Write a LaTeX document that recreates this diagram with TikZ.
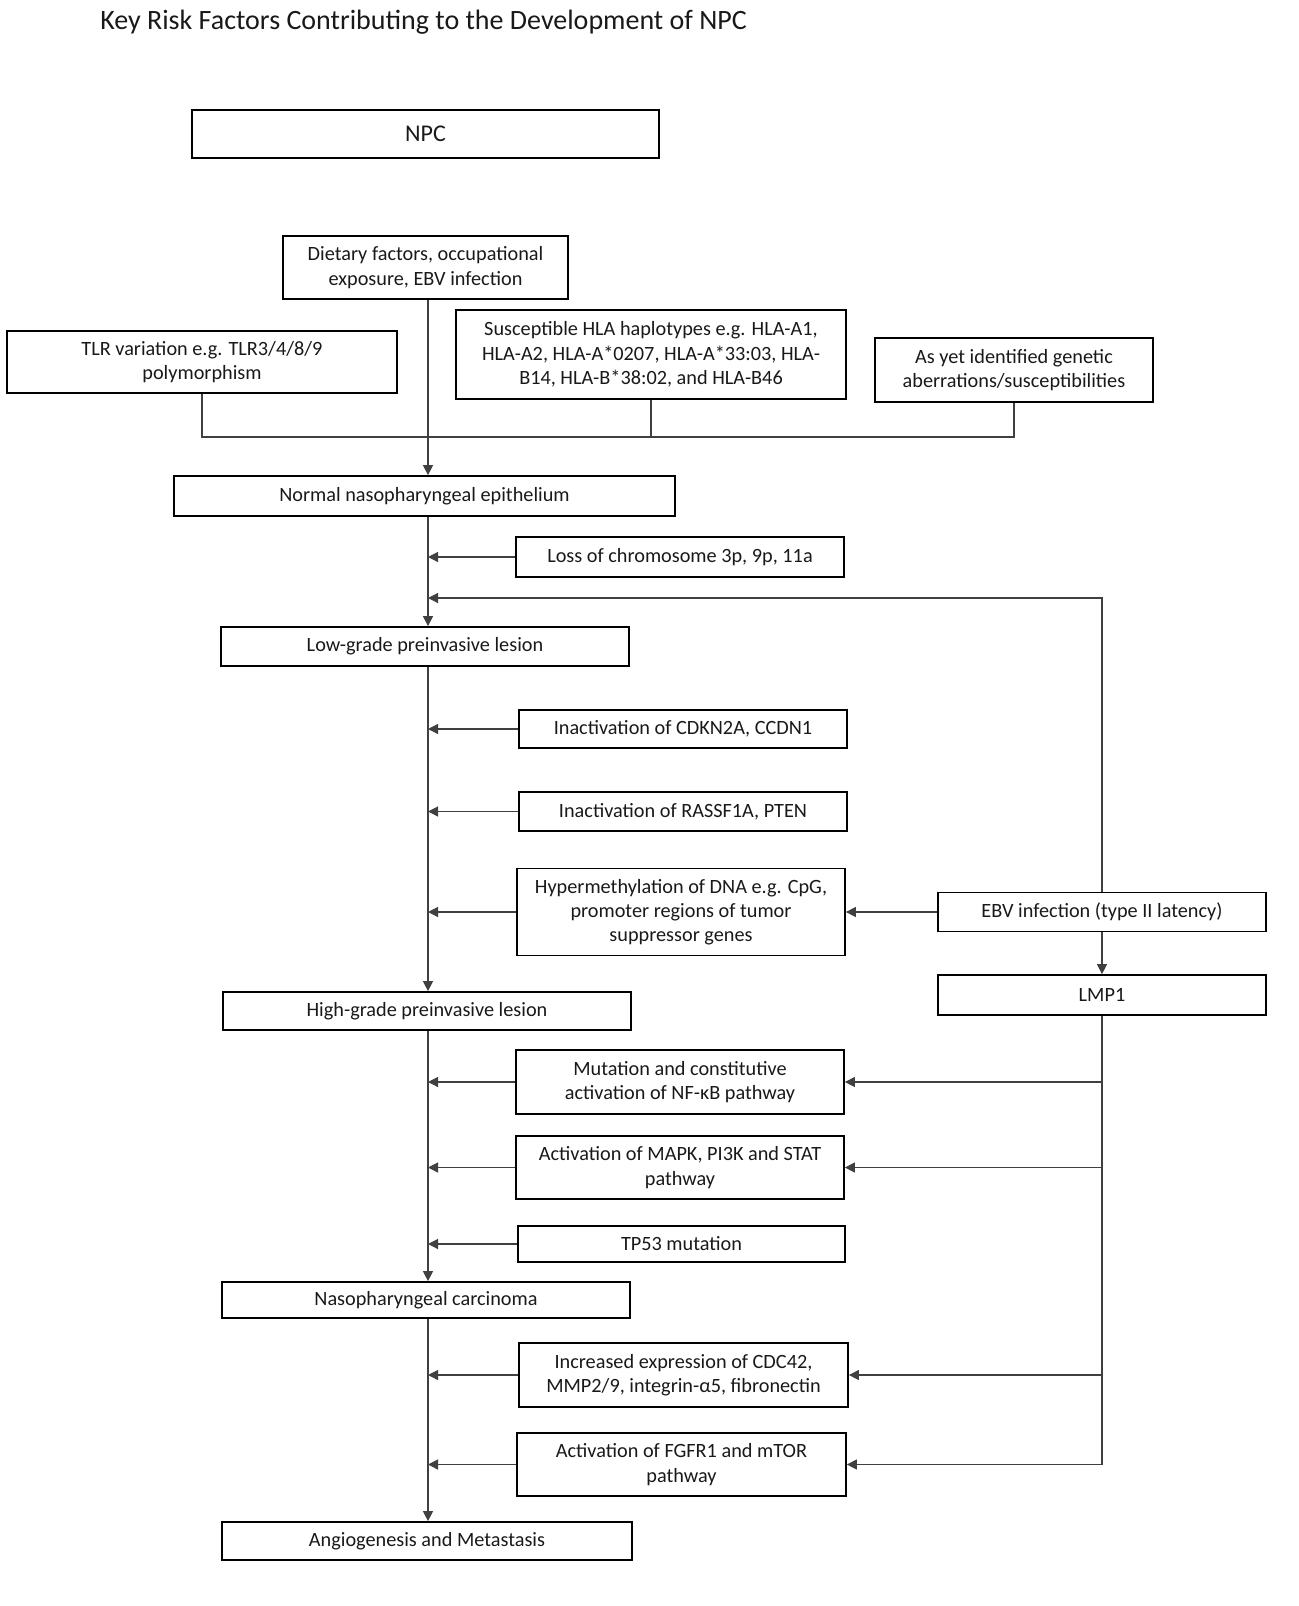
\documentclass[tikz,border=0pt]{standalone}
\usepackage{fontspec}
\setmainfont{Carlito}
\usetikzlibrary{arrows.meta}
\tikzset{
  box/.style={draw=black, line width=1.3pt, inner sep=0pt, align=center, font=\fontsize{15.2}{18.2}\selectfont, text=black!90},
  conn/.style={draw=black!75, line width=0.9pt},
  arr/.style={conn, -{Triangle[length=7.5pt,width=7.5pt]}},
}
\begin{document}
\begin{tikzpicture}[x=0.75pt,y=-0.75pt]
\useasboundingbox (0,0) rectangle (1299,1606);
\node[anchor=west, font=\fontsize{21}{25}\selectfont, inner sep=0pt, text=black!90] (title) at (100,22) {Key Risk Factors Contributing to the Development of NPC};
\coordinate (sp) at (428,0);
\coordinate (brk) at (0,437);
\coordinate (loopy) at (0,598);
% boxes
\node[box, minimum width=350.25pt, minimum height=36pt, font=\fontsize{18}{21}\selectfont] (npc) at (425.5,134) {NPC};
\node[box, minimum width=213.75pt, minimum height=47.25pt] (diet) at (425.5,267.5) {Dietary factors, occupational\\exposure, EBV infection};
\node[box, minimum width=292.5pt, minimum height=46.5pt] (tlr) at (202,362) {TLR variation e.g. TLR3/4/8/9\\polymorphism};
\node[box, minimum width=292.5pt, minimum height=66.75pt] (hla) at (651,354.5) {Susceptible HLA haplotypes e.g. HLA-A1,\\HLA-A2, HLA-A*0207, HLA-A*33:03, HLA-\\B14, HLA-B*38:02, and HLA-B46};
\node[box, minimum width=208.5pt, minimum height=48pt] (yet) at (1014,370) {As yet identified genetic\\aberrations/susceptibilities};
\node[box, minimum width=375.75pt, minimum height=30pt] (normal) at (424.5,496) {Normal nasopharyngeal epithelium};
\node[box, minimum width=246pt, minimum height=30pt] (loss) at (680,557) {Loss of chromosome 3p, 9p, 11a};
\node[box, minimum width=306pt, minimum height=29.25pt] (low) at (425,646.5) {Low-grade preinvasive lesion};
\node[box, minimum width=246pt, minimum height=28.5pt] (cdkn) at (683,729) {Inactivation of CDKN2A, CCDN1};
\node[box, minimum width=246pt, minimum height=29.25pt] (rassf) at (683,811.5) {Inactivation of RASSF1A, PTEN};
\node[box, minimum width=246pt, minimum height=65.25pt] (hyper) at (681,912) {Hypermethylation of DNA e.g. CpG,\\promoter regions of tumor\\suppressor genes};
\node[box, minimum width=246pt, minimum height=29.25pt] (ebv) at (1102,912) {EBV infection (type II latency)};
\node[box, minimum width=306pt, minimum height=28.5pt] (high) at (427,1011) {High-grade preinvasive lesion};
\node[box, minimum width=246pt, minimum height=30pt] (lmp) at (1102,995) {LMP1};
\node[box, minimum width=246pt, minimum height=48pt] (mut) at (680,1082) {Mutation and constitutive\\activation of NF-κB pathway};
\node[box, minimum width=246pt, minimum height=47.25pt] (mapk) at (680,1167.5) {Activation of MAPK, PI3K and STAT\\pathway};
\node[box, minimum width=245.25pt, minimum height=27pt] (tp) at (681.5,1244) {TP53 mutation};
\node[box, minimum width=306pt, minimum height=27pt] (nc) at (426,1300) {Nasopharyngeal carcinoma};
\node[box, minimum width=246.75pt, minimum height=48pt] (incr) at (683.5,1375) {Increased expression of CDC42,\\MMP2/9, integrin-α5, fibronectin};
\node[box, minimum width=246.75pt, minimum height=47.25pt] (fgfr) at (681.5,1464.5) {Activation of FGFR1 and mTOR\\pathway};
\node[box, minimum width=307.5pt, minimum height=28.5pt] (angio) at (427,1541) {Angiogenesis and Metastasis};
% bracket of risk factors
\draw[conn] (tlr.south) -- (tlr.south |- brk) -- (yet.south |- brk) -- (yet.south);
\draw[conn] (hla.south) -- (hla.south |- brk);
% spine
\draw[arr] (diet.south -| sp) -- (normal.north -| sp);
\draw[arr] (normal.south -| sp) -- (low.north -| sp);
\draw[arr] (low.south -| sp) -- (high.north -| sp);
\draw[arr] (high.south -| sp) -- (nc.north -| sp);
\draw[arr] (nc.south -| sp) -- (angio.north -| sp);
% side inputs
\draw[arr] (loss.west) -- (loss.west -| sp);
\draw[arr] (cdkn.west) -- (cdkn.west -| sp);
\draw[arr] (rassf.west) -- (rassf.west -| sp);
\draw[arr] (hyper.west) -- (hyper.west -| sp);
\draw[arr] (mut.west) -- (mut.west -| sp);
\draw[arr] (mapk.west) -- (mapk.west -| sp);
\draw[arr] (tp.west) -- (tp.west -| sp);
\draw[arr] (incr.west) -- (incr.west -| sp);
\draw[arr] (fgfr.west) -- (fgfr.west -| sp);
% EBV
\draw[arr] (ebv.north) -- (ebv.north |- loopy) -- (sp |- loopy);
\draw[arr] (ebv.west) -- (hyper.east);
\draw[arr] (ebv.south) -- (lmp.north);
% LMP1
\draw[conn] (lmp.south) -- (lmp.south |- fgfr.east);
\draw[arr] (lmp.south |- mut.east) -- (mut.east);
\draw[arr] (lmp.south |- mapk.east) -- (mapk.east);
\draw[arr] (lmp.south |- incr.east) -- (incr.east);
\draw[arr] (lmp.south |- fgfr.east) -- (fgfr.east);
\end{tikzpicture}
\end{document}
